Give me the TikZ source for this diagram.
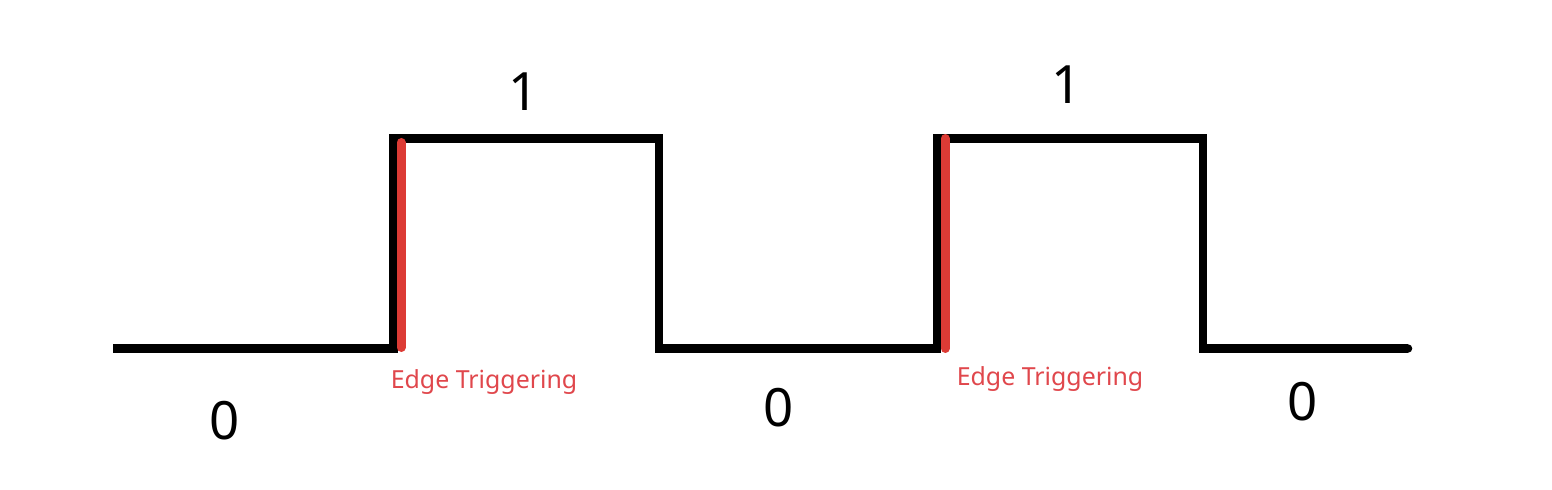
\documentclass[tikz,border=0pt]{standalone}
\usepackage{fontspec}
\setmainfont{Noto Sans}
\definecolor{edgered}{HTML}{DC3B35}
\definecolor{labelred}{HTML}{E0474C}
\begin{document}
\begin{tikzpicture}[x=1bp,y=-1bp,
  wave/.style={line width=8.5bp,black,line join=miter},
  edge/.style={line width=9bp,edgered,line cap=round},
  bit/.style={font=\fontsize{53}{53}\selectfont,inner sep=0pt},
  elabel/.style={font=\fontsize{25}{25}\selectfont,text=labelred,inner sep=0pt}]
\useasboundingbox (0,0) rectangle (1552,490);
\coordinate (s) at (113,348.5);
\coordinate (e) at (1408,348.5);
\draw[wave] (s) -- (393.5,348.5) -- (393.5,138.5) -- (659,138.5) -- (659,348.5) -- (937,348.5) -- (937,138.5) -- (1203,138.5) -- (1203,348.5) -- (e);
\fill (e) circle (4.25bp);
\coordinate (r1a) at (401,142.5);
\coordinate (r1b) at (401,347.5);
\coordinate (r2a) at (945,138.5);
\coordinate (r2b) at (945,348.5);
\draw[edge] (r1a) -- (r1b);
\draw[edge] (r2a) -- (r2b);
\node[bit] (one1) at (524,92) {1};
\node[bit] (one2) at (1067,85) {1};
\node[bit] (z1) at (225,421) {0};
\node[bit] (z2) at (779,408) {0};
\node[bit] (z3) at (1303,402) {0};
\node[elabel] (et1) at (484,382) {Edge Triggering};
\node[elabel] (et2) at (1050,379) {Edge Triggering};
\end{tikzpicture}
\end{document}
